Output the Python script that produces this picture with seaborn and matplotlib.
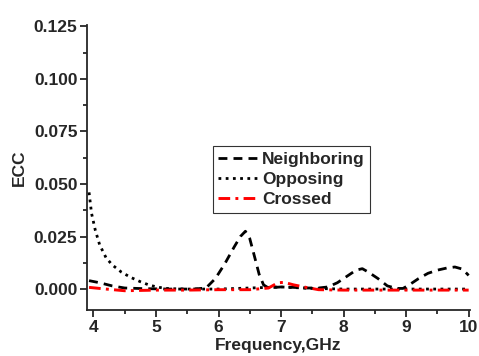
import matplotlib
matplotlib.use("Agg")
import matplotlib.pyplot as plt
from matplotlib.ticker import MultipleLocator, FormatStrFormatter
import seaborn as sns
import pandas as pd

# Envelope correlation coefficient vs frequency for three element pairs
freq_neighboring = [3.93, 4.1, 4.3, 4.5, 4.8, 5.2, 5.6, 5.8, 5.95, 6.1, 6.25, 6.35, 6.43,
                    6.5, 6.58, 6.65, 6.72, 6.8, 6.9, 7.0, 7.2, 7.4, 7.6, 7.75, 7.9, 8.05,
                    8.2, 8.3, 8.4, 8.55, 8.7, 8.85, 8.95, 9.05, 9.2, 9.35, 9.5, 9.65,
                    9.78, 9.9, 10.0]
ecc_neighboring = [0.004, 0.003, 0.0015, 0.0005, 0.0002, 0.0, 0.0, 0.0005, 0.005, 0.012,
                   0.020, 0.025, 0.0275, 0.024, 0.015, 0.007, 0.002, 0.0005, 0.0008, 0.001,
                   0.0008, 0.0005, 0.0005, 0.001, 0.003, 0.006, 0.009, 0.0097, 0.008,
                   0.005, 0.0015, 0.0003, 0.0003, 0.002, 0.005, 0.0075, 0.009, 0.010,
                   0.0105, 0.0095, 0.0065]

freq_opposing = [3.93, 3.97, 4.03, 4.1, 4.2, 4.3, 4.45, 4.6, 4.75, 4.9, 5.05, 5.2, 5.5,
                 6.0, 6.5, 7.0, 7.5, 8.0, 8.5, 9.0, 9.5, 10.0]
ecc_opposing = [0.046, 0.036, 0.028, 0.021, 0.015, 0.0115, 0.008, 0.0055, 0.0035, 0.0018,
                0.0008, 0.0002, 0.0, 0.0, 0.0005, 0.001, 0.0003, 0.0, 0.0, 0.0, 0.0, 0.0]

freq_crossed = [3.93, 4.2, 4.5, 5.0, 5.5, 6.0, 6.5, 6.8, 6.95, 7.05, 7.2, 7.4, 7.6, 8.0,
                8.5, 9.0, 9.5, 10.0]
ecc_crossed = [0.0008, 0.0, -0.0008, -0.0005, -0.0005, -0.0003, -0.0003, 0.0005, 0.003,
               0.0032, 0.002, 0.0008, -0.0003, -0.0005, -0.0005, -0.0005, -0.0005, -0.0005]

series_names = ["Neighboring", "Opposing", "Crossed"]

df = pd.concat([
    pd.DataFrame({"freq": freq_neighboring, "ecc": ecc_neighboring, "pair": series_names[0]}),
    pd.DataFrame({"freq": freq_opposing, "ecc": ecc_opposing, "pair": series_names[1]}),
    pd.DataFrame({"freq": freq_crossed, "ecc": ecc_crossed, "pair": series_names[2]}),
])

sns.set_style("ticks")
plt.rcParams["font.family"] = ["Liberation Sans", "DejaVu Sans"]
plt.rcParams["font.weight"] = "bold"

fig = plt.figure(figsize=(4.79, 3.56), dpi=100)
ax = fig.add_axes([0.182, 0.129, 0.799, 0.80])

styles = {
    "Neighboring": dict(color="black", dashes=(3.2, 2.2), lw=2.0),
    "Opposing": dict(color="black", dashes=(1, 1.6), lw=2.0),
    "Crossed": dict(color="#ff0000", dashes=(4, 1.8, 1, 1.8), lw=2.1),
}
for name in series_names:
    st = styles[name]
    sub = df[df["pair"] == name]
    sns.lineplot(data=sub, x="freq", y="ecc", ax=ax, color=st["color"], lw=st["lw"],
                 label=name, sort=False, estimator=None)
    ax.lines[-1].set_dashes(st["dashes"])

ax.set_xlim(3.9, 10.02)
ax.set_ylim(-0.01, 0.1255)
ax.xaxis.set_major_locator(MultipleLocator(1))
ax.xaxis.set_minor_locator(MultipleLocator(0.5))
ax.yaxis.set_major_locator(MultipleLocator(0.025))
ax.yaxis.set_minor_locator(MultipleLocator(0.0125))
ax.yaxis.set_major_formatter(FormatStrFormatter("%.3f"))
ax.tick_params(which="major", direction="out", length=5, width=1.3, labelsize=12.5, pad=2)
ax.tick_params(which="minor", direction="out", length=3, width=1.3)
for lab in ax.get_xticklabels() + ax.get_yticklabels():
    lab.set_fontweight("bold")
for side in ("left", "bottom"):
    ax.spines[side].set_linewidth(1.3)
for side in ("top", "right"):
    ax.spines[side].set_visible(False)

ax.set_xlabel("Frequency,GHz", fontsize=12.5, fontweight="bold", labelpad=2)
ax.set_ylabel("ECC", fontsize=12.5, fontweight="bold", labelpad=5)

leg = ax.legend(loc="upper left", bbox_to_anchor=(0.328, 0.575), fontsize=12.5,
                frameon=True, fancybox=False, edgecolor="black", handlelength=2.4,
                handletextpad=0.15, borderpad=0.3, labelspacing=0.3, borderaxespad=0)
leg.get_frame().set_linewidth(0.8)
for t in leg.get_texts():
    t.set_fontweight("bold")

fig.savefig("out.png", dpi=100)
